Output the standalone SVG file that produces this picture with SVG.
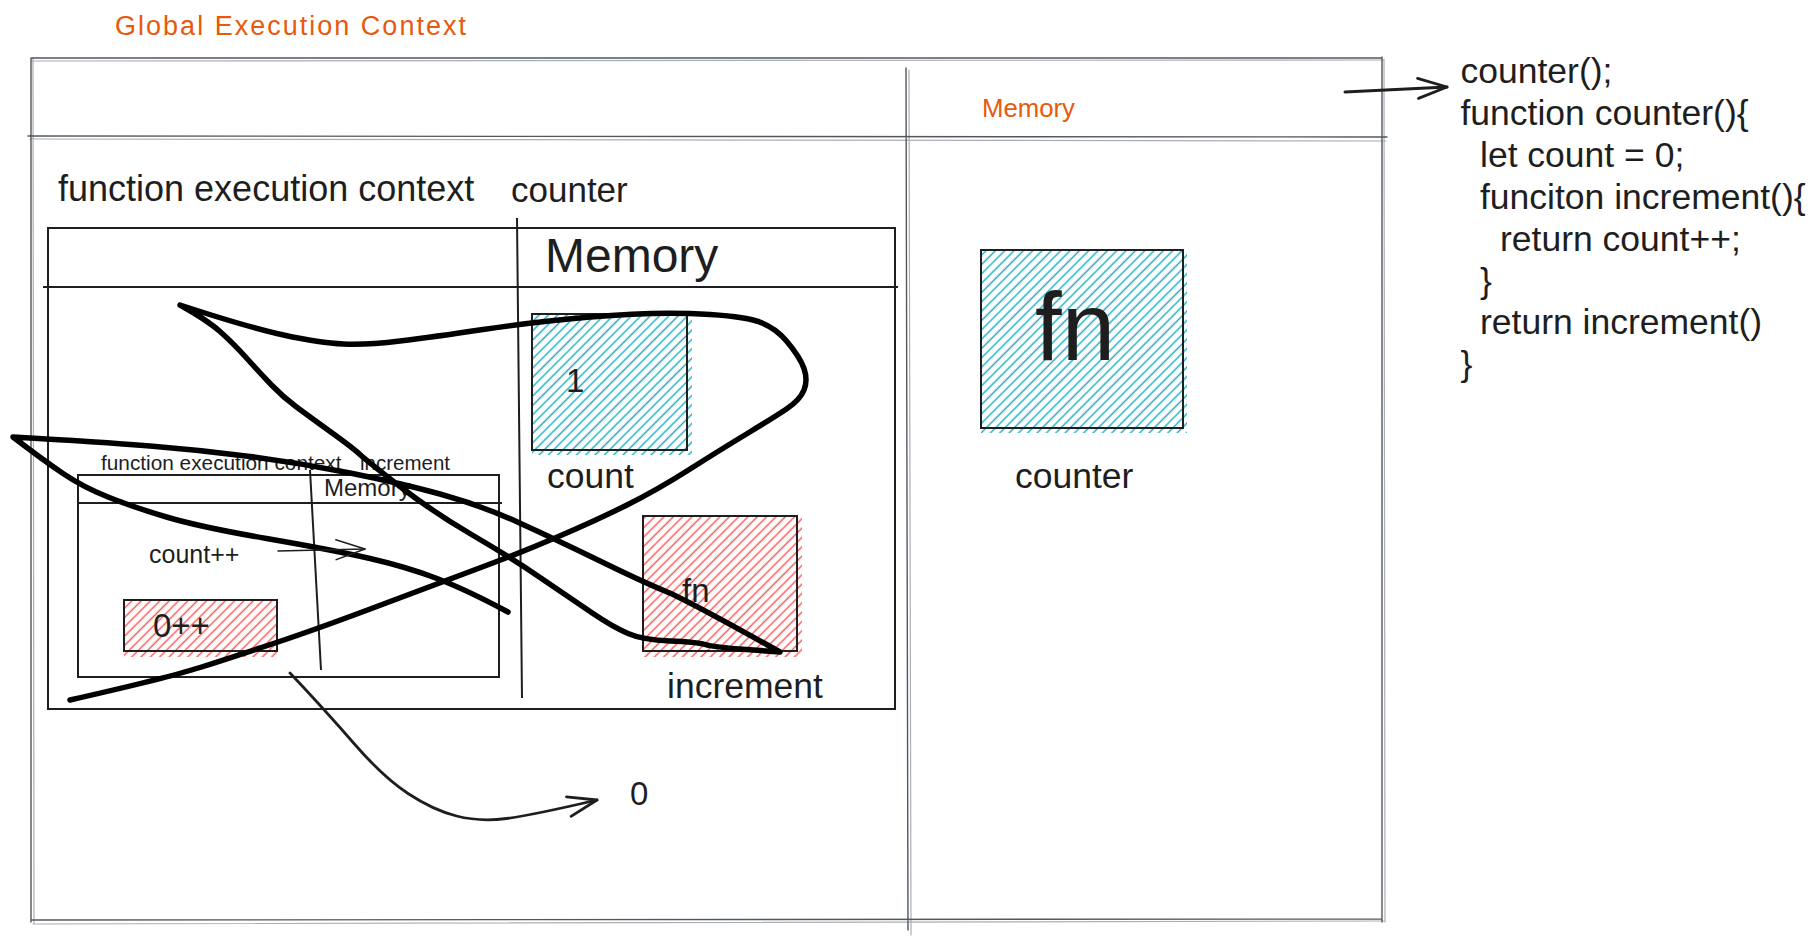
<svg xmlns="http://www.w3.org/2000/svg" width="1819" height="941" viewBox="0 0 1819 941">
<defs>
<style>
.frame{fill:none;stroke:#53575c;stroke-width:1.4;stroke-linecap:round}
.frame2{fill:none;stroke:#a9aeb4;stroke-width:1.2;stroke-linecap:round}
.box{fill:none;stroke:#1e1e1e;stroke-width:2}
.t{font-family:"Liberation Sans",Arial,sans-serif;fill:#1e1e1e}
.hand{font-family:"Liberation Sans",Arial,sans-serif;fill:#e8590c}
.scribble{fill:none;stroke:#000;stroke-width:5.5;stroke-linecap:round;stroke-linejoin:round}
.conn{fill:none;stroke:#1e1e1e;stroke-linecap:round;stroke-linejoin:round}
</style>
<pattern id="hatch-cyan" patternUnits="userSpaceOnUse" width="6.6" height="6.6" patternTransform="rotate(45)"><line x1="3.3" y1="0" x2="3.3" y2="6.6" stroke="#15aabf" stroke-width="1.4"/></pattern>
<pattern id="hatch-red" patternUnits="userSpaceOnUse" width="6.6" height="6.6" patternTransform="rotate(45)"><line x1="3.3" y1="0" x2="3.3" y2="6.6" stroke="#fa5252" stroke-width="1.4"/></pattern>
<marker id="arrow" markerUnits="userSpaceOnUse" markerWidth="36" markerHeight="28" viewBox="0 0 36 28" refX="32" refY="14" orient="auto"><path d="M3,4 L32,14 L3,24" fill="none" stroke="#1e1e1e" stroke-width="2.8" stroke-linecap="round" stroke-linejoin="round"/></marker>
<marker id="arrow-thin" markerUnits="userSpaceOnUse" markerWidth="36" markerHeight="28" viewBox="0 0 36 28" refX="32" refY="14" orient="auto"><path d="M3,4 L32,14 L3,24" fill="none" stroke="#1e1e1e" stroke-width="1.5" stroke-linecap="round" stroke-linejoin="round"/></marker>
</defs>
<rect width="1819" height="941" fill="#ffffff"/>

<text class="hand" x="115" y="35" font-size="27" textLength="351" lengthAdjust="spacing">Global Execution Context</text>

<g id="global-context">
<path class="frame2" d="M31,61 L1383,60 M30,139 L1386,141 M33,924 L1384,921 M33,58 L34,924 M1384,59 L1385,922 M909,70 L911,935"/>
<path class="frame" d="M31,58 L1382,58 M28,136 L1387,137 M31,920 L1382,919 M31,58 L31,922 M1382,57 L1382,922 M906,68 L908,930"/>
<text class="hand" x="982" y="117" font-size="25" textLength="93" lengthAdjust="spacingAndGlyphs">Memory</text>
</g>

<g id="counter-context">
<rect class="box" x="48" y="228" width="847" height="481"/>
<path class="box" d="M43,287 L898,287 M517,218 L522,698"/>
<text class="t" x="58" y="201" font-size="36">function execution context</text>
<text class="t" x="511" y="202" font-size="35">counter</text>
<text class="t" x="545" y="272" font-size="48">Memory</text>
</g>

<g id="count-var">
<rect x="532" y="314" width="160" height="141" fill="url(#hatch-cyan)"/>
<rect class="box" x="532" y="314" width="155" height="136"/>
<text class="t" x="566" y="392" font-size="33">1</text>
<text class="t" x="547" y="488" font-size="35.5">count</text>
</g>

<g id="increment-var">
<rect x="643" y="516" width="159" height="141" fill="url(#hatch-red)"/>
<rect class="box" x="643" y="516" width="154" height="135"/>
<text class="t" x="682" y="602" font-size="33">fn</text>
<text class="t" x="667" y="698" font-size="35.5">increment</text>
</g>

<g id="increment-context">
<rect class="box" x="78" y="475" width="421" height="202"/>
<path class="box" d="M78,503 L502,503 M310,470 L321,670"/>
<text class="t" x="101" y="470" font-size="20.8">function execution context</text>
<text class="t" x="360" y="470" font-size="20.5">increment</text>
<text class="t" x="324" y="496" font-size="24">Memory</text>
<text class="t" x="149" y="563" font-size="25">count++</text>
</g>

<g id="count-value">
<rect x="124" y="600" width="153" height="57" fill="url(#hatch-red)"/>
<rect class="box" x="124" y="600" width="153" height="51" stroke-width="2.5"/>
<text class="t" x="153" y="637" font-size="33">0++</text>
</g>

<g id="counter-fn">
<rect x="981" y="250" width="206" height="183" fill="url(#hatch-cyan)"/>
<rect class="box" x="981" y="250" width="202" height="178" stroke-width="3"/>
<text class="t" x="1035" y="360" font-size="96">fn</text>
<text class="t" x="1015" y="488" font-size="35.5">counter</text>
</g>

<g id="result">
<text class="t" x="630" y="805" font-size="33">0</text>
</g>

<g id="code" class="t" font-size="35.5">
<text x="1460.5" y="83">counter();</text>
<text x="1460.5" y="125">function counter(){</text>
<text x="1480" y="167">let count = 0;</text>
<text x="1480" y="209">funciton increment(){</text>
<text x="1500" y="251">return count++;</text>
<text x="1480" y="292.5">}</text>
<text x="1480" y="334">return increment()</text>
<text x="1460.5" y="375.5">}</text>
</g>

<g id="scribbles">
<path class="scribble" d="M70,700 Q167,678 200,667.5 Q233,657 276.5,642.5 Q320,628 383.5,604 Q447,580 483.5,566.5 Q520,553 558.5,536.5 Q597,520 627,505 Q657,490 688.5,470 Q720,450 746.5,434 Q773,418 786.5,409 Q800,400 804,390 Q808,380 804,368.5 Q800,357 786.5,341 Q773,325 753,320 Q733,315 690,313.5 Q647,312 590,317 Q533,322 483,329.5 Q433,337 400,341 Q367,345 343.5,344 Q320,343 283.5,335 Q247,327 180,305 Q207,320 220,331.5 Q233,343 246.5,358 Q260,373 271.5,385 Q283,397 296.5,407 Q310,417 331.5,432.5 Q353,448 360,454.5 Q367,461 400,486.5 Q433,512 471.5,534.5 Q510,557 541.5,578.5 Q573,600 593,613.5 Q613,627 628,633.5 Q643,640 670,641 Q697,642 705,644.5 Q713,647 746.5,649.5 L780,652 Q687,600 665,591 Q643,582 600,561 Q557,540 518.5,522.5 Q480,505 440,494 Q400,483 350,473 Q300,463 250,456.5 Q200,450 150,446 Q100,442 13,437 Q43,460 63,473.5 Q83,487 108,497 Q133,507 166.5,517 Q200,527 266.5,538.5 Q333,550 370,558.5 Q407,567 437,578.5 Q467,590 508,612"/>
</g>

<g id="connectors">
<path class="conn" stroke-width="3" d="M1345,92 L1447,87" marker-end="url(#arrow)"/>
<path class="conn" stroke-width="1.5" d="M278,551 L365,549" marker-end="url(#arrow-thin)"/>
<path class="conn" stroke-width="2.8" d="M290,673 Q325,710 354,743.5 Q383,777 408,793.5 Q433,810 456.5,816 Q480,822 506.5,818.5 Q533,815 597,800" marker-end="url(#arrow)"/>
</g>
</svg>
